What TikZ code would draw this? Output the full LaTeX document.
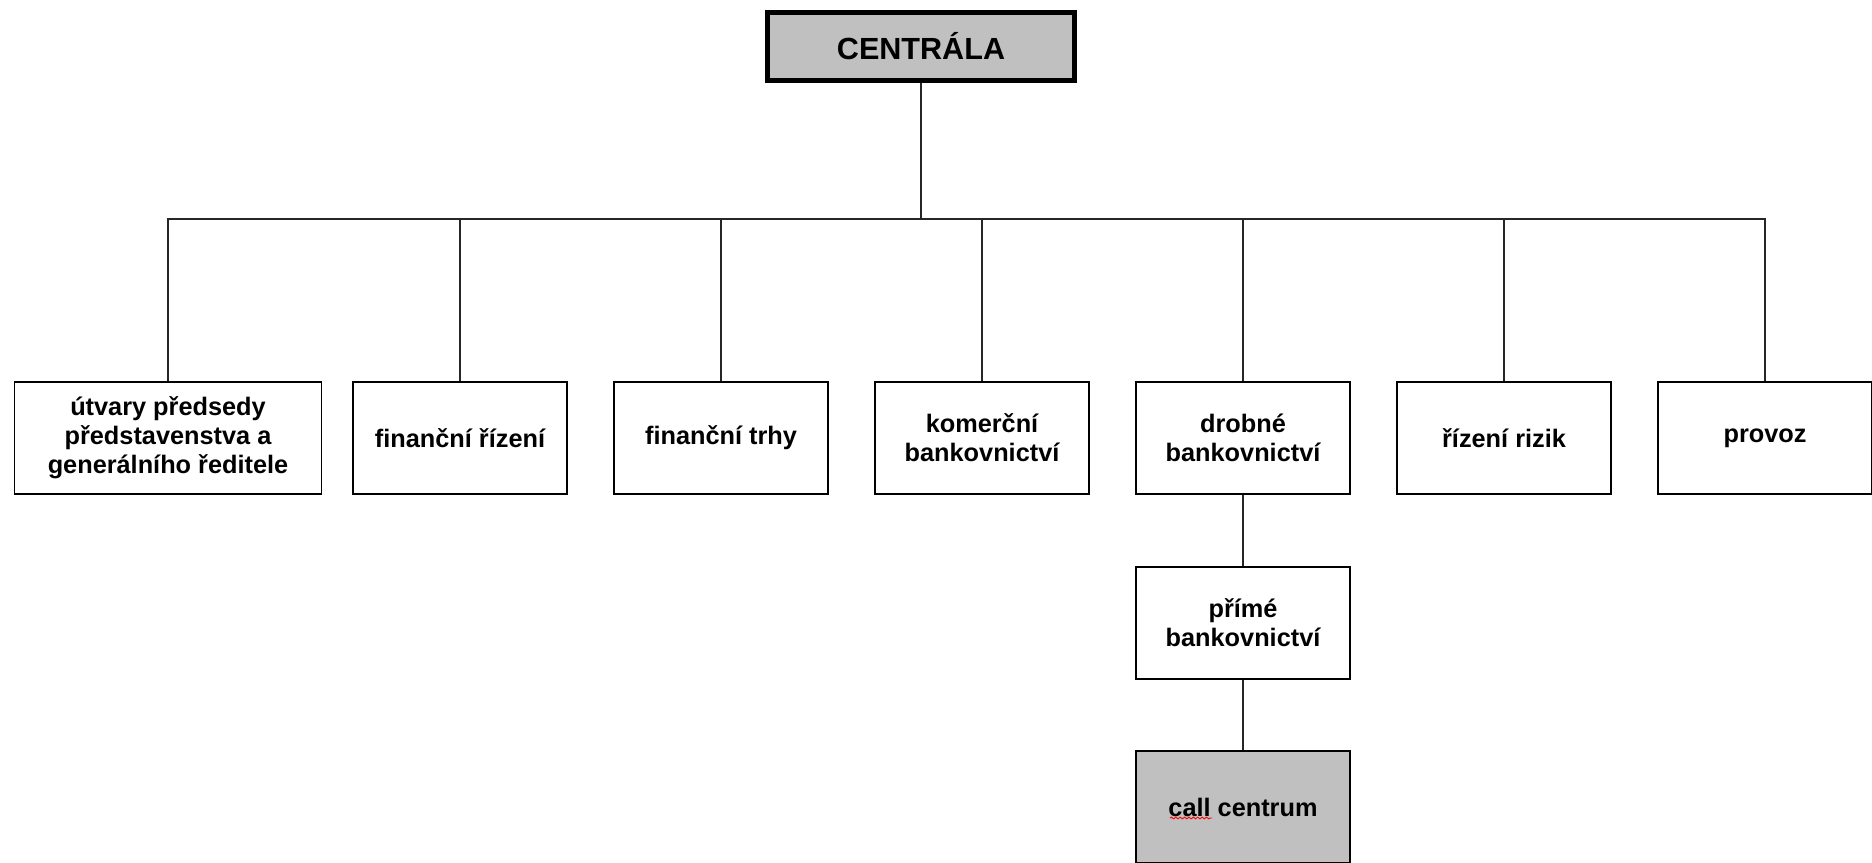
\documentclass[tikz,border=0pt]{standalone}
\usepackage{fontspec}
\setmainfont{Liberation Sans}
\usetikzlibrary{positioning,decorations.pathmorphing}
\definecolor{boxgray}{RGB}{192,192,192}
\tikzset{
  font=\bfseries\fontsize{14.4}{16.5}\selectfont,
  head/.style ={draw, line width=2.8pt, fill=boxgray, minimum width=61.4mm, minimum height=13.6mm, inner sep=0pt, font=\bfseries\fontsize{17.4}{20}\selectfont},
  unit/.style ={draw, line width=1.1pt, fill=white, minimum width=42.8mm, minimum height=22.4mm, align=center, inner sep=0pt},
  wide/.style ={unit, minimum width=61.4mm},
  leaf/.style ={unit, fill=boxgray},
  link/.style ={line width=1.1pt, draw=black!85},
}

\begin{document}
\begin{tikzpicture}[x=0.2mm, y=0.2mm]
  \useasboundingbox (0,0) rectangle (1872,863);
  \node[head] (cen) at (921,816.5) {CENTRÁLA};
  \coordinate (bus) at (921,644);

  \node[wide] (utv)  at (168,425)  {útvary předsedy\\představenstva a\\generálního ředitele};
  \node[unit] (fin)  at (460,425)  {finanční řízení};
  \node[unit] (trhy) at (721,425)  {finanční trhy};
  \node[unit] (kom)  at (982,425)  {komerční\\bankovnictví};
  \node[unit] (drob) at (1243,425) {drobné\\bankovnictví};
  \node[unit] (riz)  at (1504,425) {řízení rizik};
  \node[unit] (prov) at (1765,425) {provoz};

  \node[unit] (prim) at (1243,240) {přímé\\bankovnictví};
  \node[leaf] (call) at (1243,56)  {call centrum};

  \draw[link] (cen) -- (bus);
  \foreach \n in {utv,fin,trhy,kom,drob,riz,prov}
    \draw[link] (bus) -| (\n.north);
  \draw[link] (drob) -- (prim);
  \draw[link] (prim) -- (call);

  % spell-check mark under "call"
  \draw[red, line width=0.5pt, decorate, decoration={snake, amplitude=0.5pt, segment length=2.5pt}] (1170,45) -- (1212,45);
\end{tikzpicture}
\end{document}
